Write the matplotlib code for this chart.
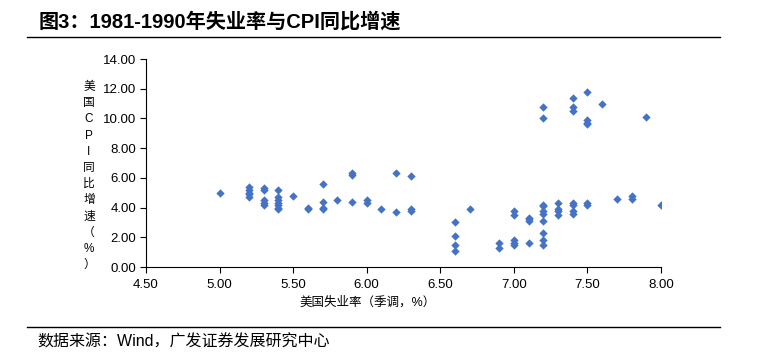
import matplotlib
matplotlib.use('Agg')
import matplotlib.pyplot as plt
from matplotlib.ticker import FormatStrFormatter

plt.rcParams['font.family'] = ['Liberation Sans', 'Noto Sans CJK SC']

# US unemployment (seasonally adjusted, %) vs US CPI yoy (%), 1981-1990
unemployment = [5.0,
                5.2, 5.2, 5.2, 5.2, 5.2,
                5.3, 5.3, 5.3, 5.3, 5.3,
                5.4, 5.4, 5.4, 5.4, 5.4, 5.4, 5.4,
                5.5,
                5.6, 5.6,
                5.7, 5.7, 5.7, 5.7,
                5.8,
                5.9, 5.9, 5.9,
                6.0, 6.0,
                6.1,
                6.2, 6.2,
                6.3, 6.3, 6.3,
                6.6, 6.6, 6.6, 6.6,
                6.7,
                6.9, 6.9,
                7.0, 7.0, 7.0, 7.0, 7.0,
                7.1, 7.1, 7.1, 7.1,
                7.2, 7.2, 7.2, 7.2, 7.2, 7.2, 7.2, 7.2, 7.2, 7.2,
                7.3, 7.3, 7.3, 7.3,
                7.4, 7.4, 7.4, 7.4, 7.4, 7.4, 7.4,
                7.5, 7.5, 7.5, 7.5, 7.5, 7.5,
                7.6,
                7.7,
                7.8, 7.8,
                7.9,
                8.0]
cpi = [5.0,
       5.4, 5.2, 5.0, 4.9, 4.7,
       5.3, 5.2, 4.5, 4.3, 4.2,
       5.2, 4.7, 4.5, 4.3, 4.2, 4.0, 3.9,
       4.8,
       4.0, 3.9,
       5.6, 4.4, 4.0, 3.9,
       4.5,
       6.3, 6.2, 4.4,
       4.5, 4.3,
       3.9,
       6.3, 3.7,
       6.1, 3.9, 3.8,
       3.0, 2.1, 1.5, 1.1,
       3.9,
       1.6, 1.3,
       3.8, 3.5, 1.8, 1.6, 1.5,
       3.3, 3.2, 3.1, 1.6,
       10.8, 10.0, 4.2, 4.1, 3.8, 3.6, 3.1, 2.3, 1.8, 1.5,
       4.3, 3.9, 3.8, 3.5,
       11.4, 10.8, 10.5, 4.3, 4.2, 3.8, 3.6,
       11.8, 9.9, 9.7, 9.6, 4.3, 4.2,
       11.0,
       4.6,
       4.8, 4.6,
       10.1,
       4.2]

title = '图3：1981-1990年失业率与CPI同比增速'
xlabel = '美国失业率（季调，%）'
ylabel = '美国CPI同比增速（%）'
source = '数据来源：Wind，广发证券发展研究中心'

W, H = 781, 353
fig = plt.figure(figsize=(W / 100, H / 100), dpi=100)
ax = fig.add_axes([146 / W, 1 - 267 / H, (661 - 146) / W, (267 - 59) / H])

ax.scatter(unemployment, cpi, marker='D', s=18, color='#4472C4', linewidths=0, zorder=3)

ax.set_xlim(4.5, 8.0)
ax.set_ylim(0, 14)
ax.set_xticks([4.5, 5.0, 5.5, 6.0, 6.5, 7.0, 7.5, 8.0])
ax.set_yticks(range(0, 15, 2))
ax.xaxis.set_major_formatter(FormatStrFormatter('%.2f'))
ax.yaxis.set_major_formatter(FormatStrFormatter('%.2f'))
ax.tick_params(axis='both', direction='out', length=4, width=0.8, labelsize=9.5, pad=3)
ax.tick_params(axis='x', pad=5)
for s in ['top', 'right']:
    ax.spines[s].set_visible(False)
for s in ['left', 'bottom']:
    ax.spines[s].set_linewidth(0.8)

# x label
fig.text(368 / W, 1 - 302 / H, xlabel, fontsize=9, ha='center', va='center')

# stacked y label, one character per line
n = len(ylabel)
for i, ch in enumerate(ylabel):
    y = 87 + i * (265 - 87) / (n - 1)
    fig.text(89 / W, 1 - y / H, ch, fontsize=8.5, ha='center', va='center')

# title, rules, source
fig.text(39 / W, 1 - 22 / H, title, fontsize=14.5, fontweight='bold', ha='left', va='center')
fig.add_artist(plt.Line2D([27 / W, 720 / W], [1 - 37 / H, 1 - 37 / H], color='black', lw=1))
fig.add_artist(plt.Line2D([27 / W, 720 / W], [1 - 327 / H, 1 - 327 / H], color='black', lw=1))
fig.text(37 / W, 1 - 342 / H, source, fontsize=11.5, ha='left', va='center')

fig.savefig('out.png', dpi=100)
